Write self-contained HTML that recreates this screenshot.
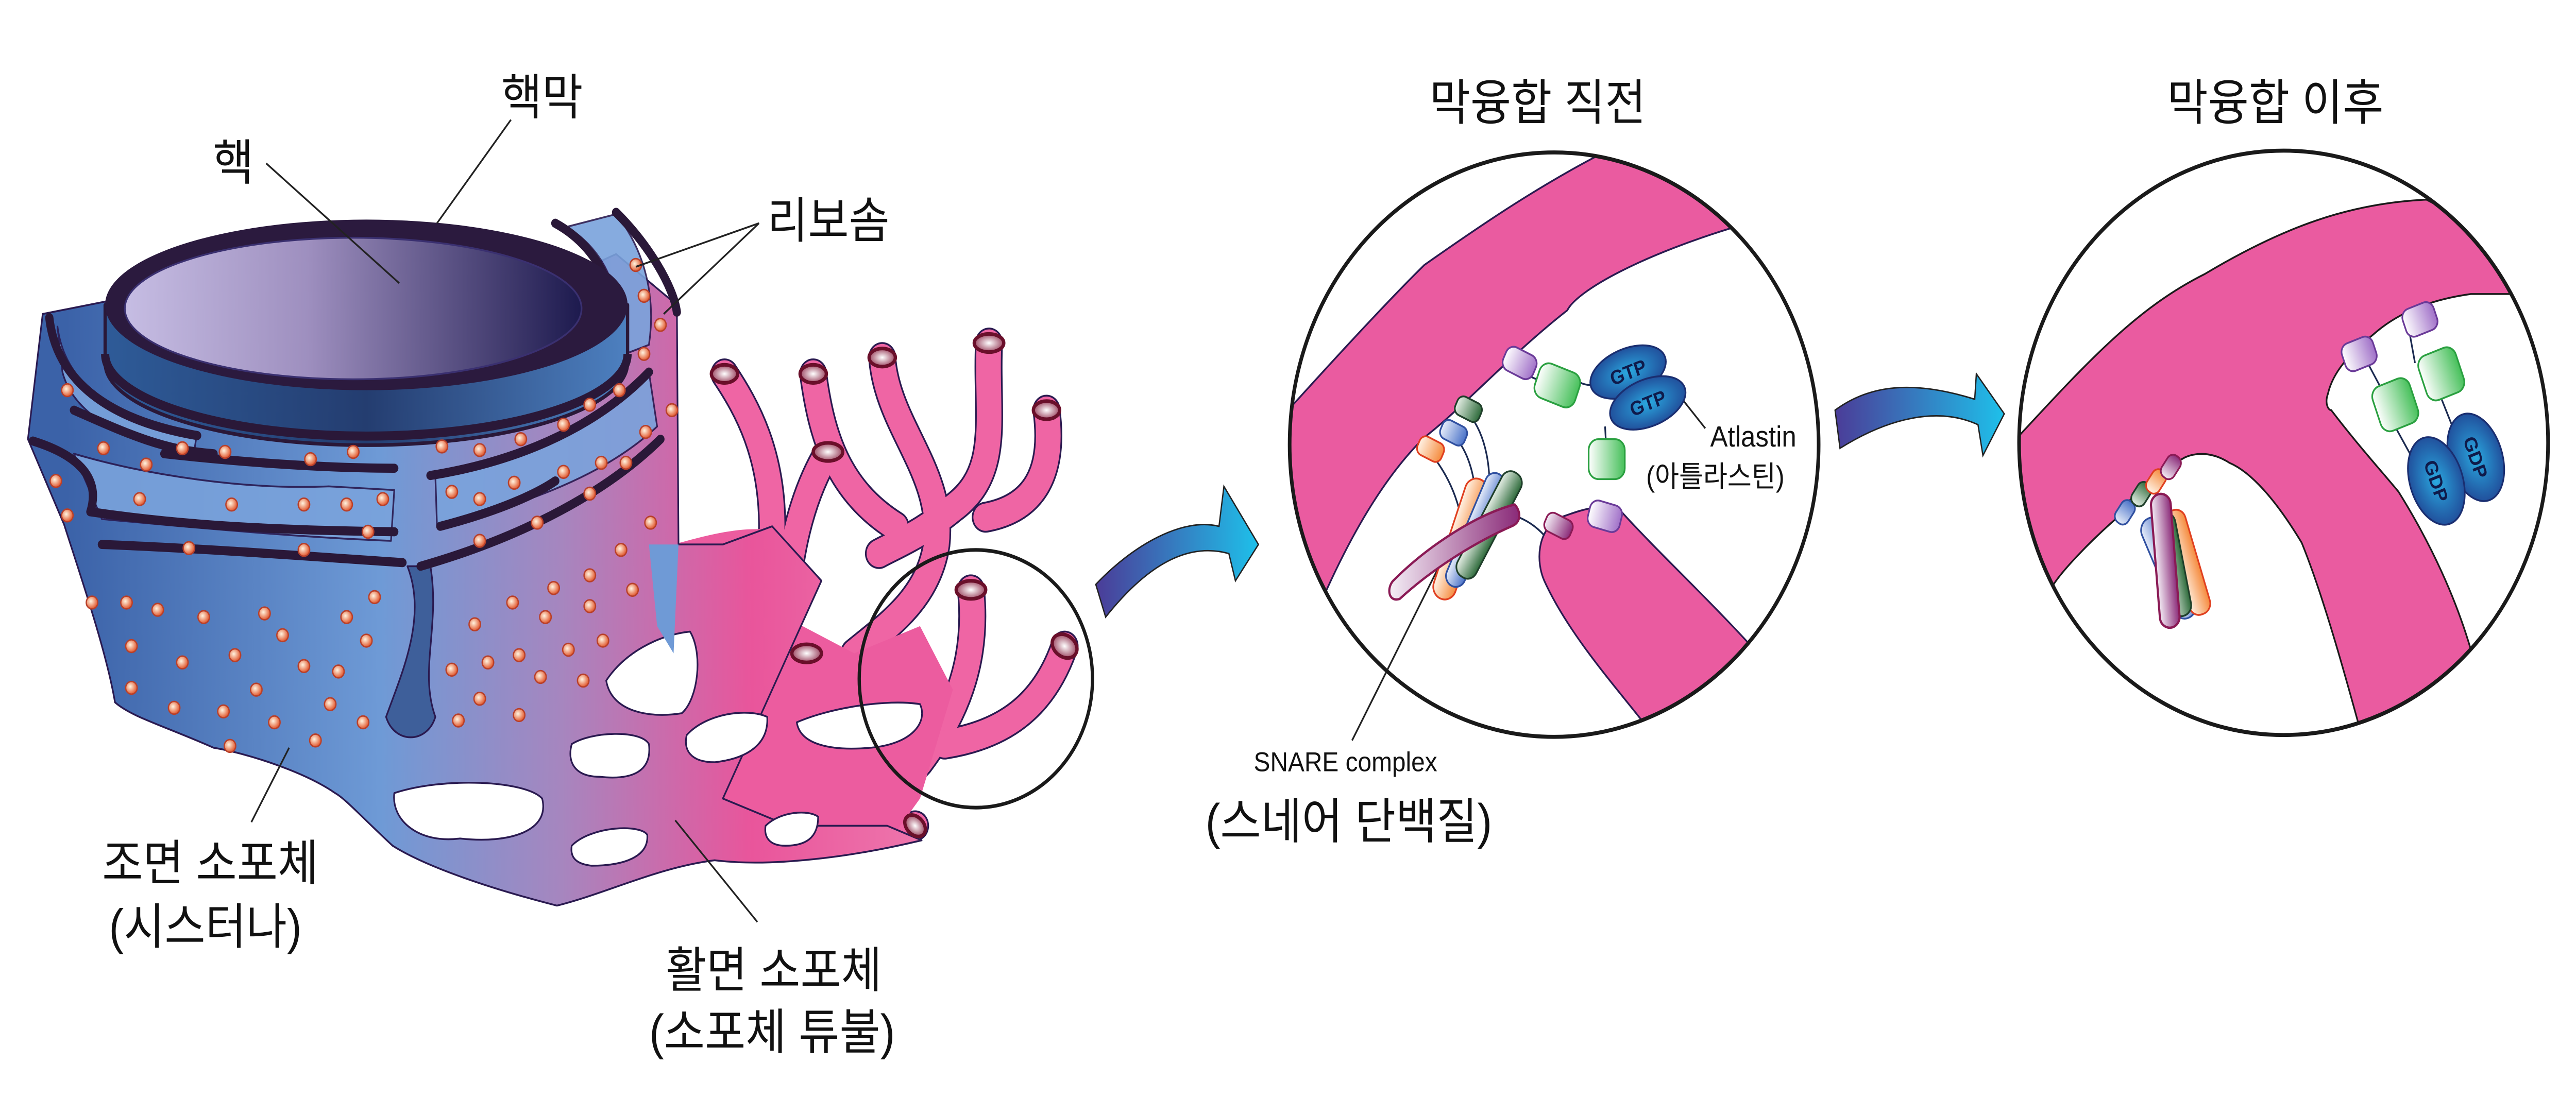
<!DOCTYPE html>
<html><head><meta charset="utf-8"><style>
html,body{margin:0;padding:0;background:#fff;overflow:hidden;width:100%;height:100%}
svg{display:block;position:absolute;left:0;top:0;width:100vw;height:100vh}
text{font-family:"Liberation Sans","Noto Sans CJK KR",sans-serif;fill:#111}
</style></head><body>
<svg viewBox="0 0 1568 605" preserveAspectRatio="none" xmlns="http://www.w3.org/2000/svg">
<defs>
<linearGradient id="body" gradientUnits="userSpaceOnUse" x1="40" y1="0" x2="620" y2="0">
<stop offset="0" stop-color="#3b62a8"/><stop offset="0.33" stop-color="#6e9ad6"/><stop offset="0.52" stop-color="#a686bf"/><stop offset="0.72" stop-color="#e9559b"/><stop offset="1" stop-color="#f188b6"/></linearGradient>
<linearGradient id="inner" x1="0" y1="0" x2="1" y2="0"><stop offset="0" stop-color="#c6bde3"/><stop offset="0.4" stop-color="#9e8fbf"/><stop offset="1" stop-color="#1d1a4e"/></linearGradient>
<linearGradient id="wall" x1="0" y1="0" x2="1" y2="0"><stop offset="0" stop-color="#2e5b98"/><stop offset="0.5" stop-color="#243d70"/><stop offset="1" stop-color="#4d80c0"/></linearGradient>
<linearGradient id="arrow" x1="0" y1="0" x2="1" y2="0"><stop offset="0" stop-color="#4b3c98"/><stop offset="1" stop-color="#1ec0ea"/></linearGradient>
<radialGradient id="dot" cx="0.4" cy="0.4" r="0.6"><stop offset="0" stop-color="#fff4e0"/><stop offset="1" stop-color="#e2582e"/></radialGradient>
<radialGradient id="cap" cx="0.5" cy="0.5" r="0.6"><stop offset="0" stop-color="#fff"/><stop offset="1" stop-color="#8a2545"/></radialGradient>
<radialGradient id="gtp" cx="0.5" cy="0.5" r="0.6"><stop offset="0" stop-color="#2aa9e0"/><stop offset="1" stop-color="#1f3f8f"/></radialGradient>
<linearGradient id="grn" x1="0" y1="0" x2="1" y2="0"><stop offset="0" stop-color="#fff"/><stop offset="1" stop-color="#46c05a"/></linearGradient>
<linearGradient id="pur" x1="0" y1="0" x2="1" y2="0"><stop offset="0" stop-color="#fff"/><stop offset="1" stop-color="#a070c8"/></linearGradient>
<linearGradient id="snp" x1="0" y1="0" x2="1" y2="0"><stop offset="0" stop-color="#f4eef6"/><stop offset="1" stop-color="#8a2a78"/></linearGradient>
<linearGradient id="snb" x1="0" y1="0" x2="1" y2="0"><stop offset="0" stop-color="#e8eefa"/><stop offset="1" stop-color="#4a72c8"/></linearGradient>
<linearGradient id="sno" x1="0" y1="0" x2="1" y2="0"><stop offset="0" stop-color="#fff3e6"/><stop offset="1" stop-color="#f58a3c"/></linearGradient>
<linearGradient id="sng" x1="0" y1="0" x2="1" y2="0"><stop offset="0" stop-color="#e6efe6"/><stop offset="1" stop-color="#2d6a3a"/></linearGradient>
<clipPath id="c1"><circle cx="946" cy="245" r="161"/></clipPath>
<clipPath id="c2"><circle cx="1390" cy="244" r="161"/></clipPath>
</defs>

<g stroke-linejoin="round">
<g fill="none" stroke-linecap="round">
<g stroke="#2a1a50" stroke-width="17">
<path d="M441,206 C455,225 470,250 470,290 C470,330 455,370 430,410"/>
<path d="M495,206 C500,240 510,270 545,290"/>
<path d="M537,197 C540,235 575,260 570,300 C565,330 540,345 520,360"/>
<path d="M602,189 C600,230 610,260 580,280 C560,295 545,300 535,305"/>
<path d="M637,226 C642,260 630,280 600,285"/>
<path d="M504,249 C490,270 480,300 478,340"/>
<path d="M591,325 C595,360 585,390 560,420 C540,440 500,450 470,455"/>
<path d="M648,356 C635,390 610,405 575,410"/>
<path d="M491,360 C492,395 470,420 440,440"/>
<path d="M557,455 C520,465 480,465 440,462"/>
</g>
<g stroke="#ef65a4" stroke-width="15">
<path d="M441,206 C455,225 470,250 470,290 C470,330 455,370 430,410"/>
<path d="M495,206 C500,240 510,270 545,290"/>
<path d="M537,197 C540,235 575,260 570,300 C565,330 540,345 520,360"/>
<path d="M602,189 C600,230 610,260 580,280 C560,295 545,300 535,305"/>
<path d="M637,226 C642,260 630,280 600,285"/>
<path d="M504,249 C490,270 480,300 478,340"/>
<path d="M591,325 C595,360 585,390 560,420 C540,440 500,450 470,455"/>
<path d="M648,356 C635,390 610,405 575,410"/>
<path d="M491,360 C492,395 470,420 440,440"/>
<path d="M557,455 C520,465 480,465 440,462"/>
</g>
</g>
<path d="M410,300 C430,295 450,290 470,292 L478,340 L520,360 L560,345 L580,380 L560,440 L540,465 L480,470 L420,475 L400,440 L405,360 Z" fill="#ec5c9f"/>
<path d="M17,242 L26,173 L65,166 L220,205 L375,140 L412,168 L413,300 L440,300 L470,290 L500,320 L470,380 L440,440 L480,455 L540,455 L561,463 C520,472 470,478 435,474 C400,478 370,492 339,499 C300,490 260,478 239,466 C220,450 210,440 204,437 C185,425 150,415 130,412 C100,400 80,395 70,387 C65,360 50,320 39,289 Z" fill="url(#body)" stroke="#2a1a50" stroke-width="1"/>
<g fill="#fff" stroke="#2a1a50" stroke-width="1">
<path d="M240,437 C270,428 320,430 330,440 C335,458 310,465 280,462 C255,465 238,452 240,437Z"/>
<path d="M348,410 C360,403 390,402 395,410 C397,425 385,430 365,428 C350,428 345,420 348,410Z"/>
<path d="M369,375 C380,360 400,350 420,348 C428,360 425,385 415,393 C395,396 372,392 369,375Z"/>
<path d="M348,466 C360,455 390,454 394,460 C395,472 380,477 360,477 C350,476 347,472 348,466Z"/>
<path d="M418,405 C430,393 455,390 467,395 C468,410 455,418 435,420 C420,420 416,413 418,405Z"/>
<path d="M466,455 C475,447 492,446 498,450 C498,462 490,466 478,466 C468,466 465,461 466,455Z"/>
<path d="M485,398 C505,390 540,385 560,388 C565,398 555,410 530,412 C505,414 487,410 485,398Z"/>
</g>
<path d="M395,300 L413,300 L410,360 L400,345 Z" fill="#6f9ad6"/>
<g fill="url(#cap)" stroke="#6a0f2a" stroke-width="2">
<ellipse cx="441" cy="206" rx="8" ry="5"/><ellipse cx="495" cy="206" rx="8" ry="5"/><ellipse cx="537" cy="197" rx="8" ry="5"/><ellipse cx="602" cy="189" rx="9" ry="5"/><ellipse cx="637" cy="226" rx="8" ry="5"/><ellipse cx="504" cy="249" rx="9" ry="5"/><ellipse cx="591" cy="325" rx="9" ry="5"/><ellipse cx="648" cy="356" rx="8" ry="6" transform="rotate(30 648 356)"/><ellipse cx="491" cy="360" rx="9" ry="5"/><ellipse cx="557" cy="455" rx="7" ry="5" transform="rotate(40 557 455)"/>
</g>
<path d="M248,312 C260,340 245,370 235,395 C240,410 260,410 265,395 C255,370 268,345 262,312 Z" fill="#3e5f9a" stroke="#2a1a50" stroke-width="1"/>
<g fill="#7aa3dc" stroke="#2a1a50" stroke-width="1" opacity="0.9">
<path d="M35,180 C40,215 75,232 120,238 L118,250 C80,245 45,230 38,205Z"/>
<path d="M45,250 C90,262 150,270 200,268 L240,270 L238,298 C180,296 110,290 62,286Z"/>
<path d="M265,262 C310,255 360,235 395,205 L400,235 C365,265 310,280 266,290Z"/>
<path d="M345,125 C372,140 382,168 372,198 L395,190 C400,160 390,135 375,118Z"/>
</g>
<g fill="none" stroke="#2a1838" stroke-width="5" stroke-linecap="round">
<path d="M30,175 C35,215 75,233 120,240"/>
<path d="M20,243 C45,250 62,262 55,282 C100,288 150,292 240,293"/>
<path d="M62,300 C120,302 180,306 245,310"/>
<path d="M256,312 C310,298 365,275 402,242"/>
<path d="M268,290 C310,280 330,270 338,265"/>
<path d="M262,262 C310,255 360,238 395,205"/>
<path d="M45,226 C80,240 100,248 130,250"/>
<path d="M100,250 C150,255 200,258 240,258"/>
<path d="M338,123 C368,138 380,168 370,196"/>
<path d="M375,117 C395,135 410,158 412,172"/>
<path d="M262,232 C300,230 340,215 372,195"/>
</g>
<path d="M64,168 L64,200 A158,45 0 0 0 382,200 L382,168 Z" fill="url(#wall)" stroke="#2a1838" stroke-width="2"/>
<ellipse cx="223" cy="168" rx="159" ry="47" fill="#2b1a3e"/>
<ellipse cx="215" cy="170" rx="139" ry="39" fill="url(#inner)" stroke="#3a3070" stroke-width="1"/>
<path d="M64,195 A158,45 0 0 0 382,195" fill="none" stroke="#2a1838" stroke-width="5"/>
<g fill="url(#dot)" stroke="#b8402a" stroke-width="0.8">
<circle cx="41" cy="215" r="3.5"/><circle cx="63" cy="247" r="3.5"/><circle cx="89" cy="256" r="3.5"/><circle cx="111" cy="247" r="3.5"/><circle cx="137" cy="249" r="3.5"/><circle cx="189" cy="253" r="3.5"/><circle cx="215" cy="249" r="3.5"/><circle cx="34" cy="265" r="3.5"/><circle cx="41" cy="284" r="3.5"/><circle cx="85" cy="275" r="3.5"/><circle cx="141" cy="278" r="3.5"/><circle cx="185" cy="278" r="3.5"/><circle cx="211" cy="278" r="3.5"/><circle cx="233" cy="275" r="3.5"/><circle cx="224" cy="293" r="3.5"/><circle cx="115" cy="302" r="3.5"/><circle cx="185" cy="303" r="3.5"/><circle cx="56" cy="332" r="3.5"/><circle cx="77" cy="332" r="3.5"/><circle cx="96" cy="336" r="3.5"/><circle cx="124" cy="340" r="3.5"/><circle cx="161" cy="338" r="3.5"/><circle cx="211" cy="340" r="3.5"/><circle cx="228" cy="329" r="3.5"/><circle cx="172" cy="350" r="3.5"/><circle cx="80" cy="356" r="3.5"/><circle cx="111" cy="365" r="3.5"/><circle cx="143" cy="361" r="3.5"/><circle cx="185" cy="367" r="3.5"/><circle cx="206" cy="370" r="3.5"/><circle cx="223" cy="353" r="3.5"/><circle cx="80" cy="379" r="3.5"/><circle cx="156" cy="380" r="3.5"/><circle cx="106" cy="390" r="3.5"/><circle cx="136" cy="392" r="3.5"/><circle cx="167" cy="398" r="3.5"/><circle cx="201" cy="388" r="3.5"/><circle cx="221" cy="398" r="3.5"/><circle cx="140" cy="411" r="3.5"/><circle cx="192" cy="408" r="3.5"/>
<circle cx="269" cy="246" r="3.5"/><circle cx="292" cy="248" r="3.5"/><circle cx="317" cy="242" r="3.5"/><circle cx="343" cy="234" r="3.5"/><circle cx="359" cy="223" r="3.5"/><circle cx="377" cy="215" r="3.5"/><circle cx="392" cy="195" r="3.5"/><circle cx="393" cy="238" r="3.5"/><circle cx="409" cy="226" r="3.5"/><circle cx="275" cy="271" r="3.5"/><circle cx="292" cy="275" r="3.5"/><circle cx="313" cy="266" r="3.5"/><circle cx="343" cy="260" r="3.5"/><circle cx="366" cy="255" r="3.5"/><circle cx="381" cy="255" r="3.5"/><circle cx="359" cy="272" r="3.5"/><circle cx="327" cy="288" r="3.5"/><circle cx="292" cy="298" r="3.5"/><circle cx="396" cy="288" r="3.5"/><circle cx="378" cy="303" r="3.5"/><circle cx="359" cy="317" r="3.5"/><circle cx="337" cy="324" r="3.5"/><circle cx="312" cy="332" r="3.5"/><circle cx="359" cy="334" r="3.5"/><circle cx="385" cy="325" r="3.5"/><circle cx="332" cy="340" r="3.5"/><circle cx="289" cy="344" r="3.5"/><circle cx="316" cy="361" r="3.5"/><circle cx="346" cy="358" r="3.5"/><circle cx="367" cy="353" r="3.5"/><circle cx="297" cy="365" r="3.5"/><circle cx="275" cy="369" r="3.5"/><circle cx="329" cy="373" r="3.5"/><circle cx="355" cy="375" r="3.5"/><circle cx="292" cy="385" r="3.5"/><circle cx="279" cy="397" r="3.5"/><circle cx="316" cy="394" r="3.5"/><circle cx="387" cy="146" r="3.5"/><circle cx="392" cy="163" r="3.5"/><circle cx="402" cy="179" r="3.5"/>
</g>
</g>
<circle cx="594" cy="374" r="71" fill="none" stroke="#1a1a1a" stroke-width="2"/>

<g stroke="#222" stroke-width="1" fill="none">
<line x1="162" y1="90" x2="243" y2="156"/>
<line x1="311" y1="66" x2="266" y2="123"/>
<line x1="462" y1="123" x2="387" y2="147"/>
<line x1="462" y1="123" x2="404" y2="173"/>
<line x1="176" y1="412" x2="153" y2="453"/>
<line x1="411" y1="452" x2="461" y2="508"/>
<line x1="876" y1="312" x2="823" y2="408"/>
<line x1="1024" y1="220" x2="1038" y2="236"/>
</g>

<g font-size="27">
<text x="330" y="63" text-anchor="middle">핵막</text>
<text x="142" y="99" text-anchor="middle">핵</text>
<text x="467" y="131">리보솜</text>
<text x="128" y="485" text-anchor="middle">조면 소포체</text>
<text x="125" y="520" text-anchor="middle">(시스터나)</text>
<text x="471" y="544" text-anchor="middle">활면 소포체</text>
<text x="470" y="578" text-anchor="middle">(소포체 튜불)</text>
<text x="821" y="462" text-anchor="middle">(스네어 단백질)</text>
<text x="936" y="66" text-anchor="middle">막융합 직전</text>
<text x="1385" y="66" text-anchor="middle">막융합 이후</text>
</g>
<text x="819" y="425" text-anchor="middle" font-size="15">SNARE complex</text>
<text x="1041" y="246" font-size="16">Atlastin</text>
<text x="1002" y="268" font-size="16">(아틀라스틴)</text>

<path d="M667,322 C690,300 720,285 742,290 L745,268 L766,300 L752,320 L748,305 C720,298 695,315 673,340 Z" fill="url(#arrow)" stroke="#222" stroke-width="0.8"/>
<path d="M1117,226 C1135,214 1160,208 1202,220 L1203,206 L1220,228 L1207,251 L1204,234 C1180,224 1150,230 1120,247 Z" fill="url(#arrow)" stroke="#222" stroke-width="0.8"/>

<g clip-path="url(#c1)">
<path d="M770,240 C800,210 840,170 867,146 C900,125 940,100 985,80 L1050,70 L1060,124 C1000,140 960,160 954,171 C920,195 890,225 867,241 C840,265 820,300 807,326 L770,350 Z" fill="#ea5ba0" stroke="#2a1a50" stroke-width="1"/>
<path d="M1070,360 C1040,330 1010,305 987,282 C975,276 960,282 950,285 C935,292 935,310 940,320 C955,350 985,380 1002,400 L1100,420 Z" fill="#ea5ba0" stroke="#2a1a50" stroke-width="1"/>
</g>
<circle cx="946" cy="245" r="161" fill="none" stroke="#1a1a1a" stroke-width="2.2"/>
<g stroke-width="1">
<path d="M918,200 C925,205 935,210 947,212 M960,210 C970,215 975,210 980,208 M977,235 L978,252 M940,295 C930,285 915,280 905,285 M871,250 C880,260 885,270 888,280 M885,240 C895,250 898,265 898,275 M894,228 C905,240 908,260 906,275" stroke="#1b2a50" fill="none"/>
<ellipse cx="991" cy="205" rx="24" ry="13" transform="rotate(-20 991 205)" fill="url(#gtp)" stroke="#1a2e70"/>
<ellipse cx="1003" cy="222" rx="24" ry="13" transform="rotate(-20 1003 222)" fill="url(#gtp)" stroke="#1a2e70"/>
<text x="991" y="209" font-size="11" font-weight="bold" text-anchor="middle" transform="rotate(-20 991 205)" style="fill:#0f1a4a">GTP</text>
<text x="1003" y="226" font-size="11" font-weight="bold" text-anchor="middle" transform="rotate(-20 1003 222)" style="fill:#0f1a4a">GTP</text>
<rect x="935" y="202" width="26" height="20" rx="6" transform="rotate(20 947 212)" fill="url(#grn)" stroke="#2aa040"/>
<rect x="967" y="242" width="22" height="22" rx="6" fill="url(#grn)" stroke="#2aa040"/>
<rect x="915" y="193" width="20" height="14" rx="5" transform="rotate(25 925 200)" fill="url(#pur)" stroke="#6a3a98"/>
<rect x="967" y="277" width="20" height="15" rx="5" transform="rotate(15 977 284)" fill="url(#pur)" stroke="#6a3a98"/>
<rect x="940" y="284" width="17" height="11" rx="4" transform="rotate(25 948 290)" fill="url(#snp)" stroke="#8a1a55"/>
<rect x="863" y="242" width="16" height="11" rx="4" transform="rotate(25 871 247)" fill="url(#sno)" stroke="#e04020"/>
<rect x="877" y="233" width="16" height="11" rx="4" transform="rotate(25 885 238)" fill="url(#snb)" stroke="#3050a0"/>
<rect x="886" y="220" width="16" height="11" rx="4" transform="rotate(25 894 225)" fill="url(#sng)" stroke="#1f3f2a"/>
<rect x="882" y="262" width="14" height="70" rx="7" transform="rotate(20 889 297)" fill="url(#sno)" stroke="#e04020"/>
<rect x="892" y="258" width="12" height="68" rx="6" transform="rotate(25 898 292)" fill="url(#snb)" stroke="#3050a0"/>
<rect x="900" y="256" width="13" height="66" rx="6" transform="rotate(30 906 289)" fill="url(#sng)" stroke="#1f3f2a"/>
<path d="M848,320 C870,300 900,283 922,278 C926,282 926,288 920,290 C895,300 870,315 852,330 C845,332 844,324 848,320Z" fill="url(#snp)" stroke="#8a1a55" stroke-width="1.3"/>
</g>

<g clip-path="url(#c2)">
<path d="M1225,244 C1270,200 1300,170 1342,151 C1390,125 1430,112 1477,110 L1540,140 L1540,162 L1504,162 C1480,165 1460,172 1445,184 C1430,195 1420,205 1417,217 C1415,222 1417,226 1419,226 C1435,245 1450,260 1460,271 C1480,300 1495,330 1504,358 L1520,420 L1442,420 C1430,380 1415,330 1401,299 C1385,275 1370,260 1357,255 C1345,248 1335,250 1330,252 C1310,262 1295,275 1289,285 C1270,300 1255,315 1250,322 L1200,360 Z" fill="#ea5ba0" stroke="#1a1a1a" stroke-width="1"/>
</g>
<circle cx="1390" cy="244" r="161" fill="none" stroke="#1a1a1a" stroke-width="2.2"/>
<g stroke-width="1">
<path d="M1466,180 L1470,200 M1440,198 L1450,215 M1484,215 L1495,240 M1456,232 L1470,255" stroke="#1b2a50" fill="none"/>
<rect x="1463" y="168" width="20" height="16" rx="5" transform="rotate(-20 1473 176)" fill="url(#pur)" stroke="#6a3a98"/>
<rect x="1426" y="187" width="20" height="16" rx="5" transform="rotate(-20 1436 195)" fill="url(#pur)" stroke="#6a3a98"/>
<rect x="1474" y="193" width="24" height="26" rx="6" transform="rotate(-20 1486 206)" fill="url(#grn)" stroke="#2aa040"/>
<rect x="1446" y="210" width="24" height="26" rx="6" transform="rotate(-20 1458 223)" fill="url(#grn)" stroke="#2aa040"/>
<ellipse cx="1507" cy="252" rx="16" ry="25" transform="rotate(-20 1507 252)" fill="url(#gtp)" stroke="#1a2e70"/>
<ellipse cx="1483" cy="265" rx="16" ry="25" transform="rotate(-20 1483 265)" fill="url(#gtp)" stroke="#1a2e70"/>
<text x="1507" y="256" font-size="11" font-weight="bold" text-anchor="middle" transform="rotate(70 1507 252)" style="fill:#0f1a4a">GDP</text>
<text x="1483" y="269" font-size="11" font-weight="bold" text-anchor="middle" transform="rotate(70 1483 265)" style="fill:#0f1a4a">GDP</text>
<rect x="1286" y="278" width="14" height="9" rx="4" transform="rotate(-55 1293 282)" fill="url(#snb)" stroke="#3050a0"/>
<rect x="1296" y="268" width="14" height="9" rx="4" transform="rotate(-55 1303 272)" fill="url(#sng)" stroke="#1f3f2a"/>
<rect x="1305" y="261" width="14" height="9" rx="4" transform="rotate(-55 1312 265)" fill="url(#sno)" stroke="#e04020"/>
<rect x="1314" y="253" width="14" height="9" rx="4" transform="rotate(-55 1321 257)" fill="url(#snp)" stroke="#8a1a55"/>
<rect x="1313" y="283" width="14" height="60" rx="7" transform="rotate(-25 1320 313)" fill="url(#snb)" stroke="#3050a0"/>
<rect x="1325" y="280" width="13" height="60" rx="6" transform="rotate(-18 1331 310)" fill="url(#sno)" stroke="#e04020"/>
<rect x="1317" y="282" width="12" height="58" rx="6" transform="rotate(-12 1323 311)" fill="url(#sng)" stroke="#1f3f2a"/>
<rect x="1312" y="272" width="12" height="74" rx="6" transform="rotate(-5 1318 309)" fill="url(#snp)" stroke="#8a1a55" stroke-width="1.3"/>
</g>
</svg>
</body></html>
